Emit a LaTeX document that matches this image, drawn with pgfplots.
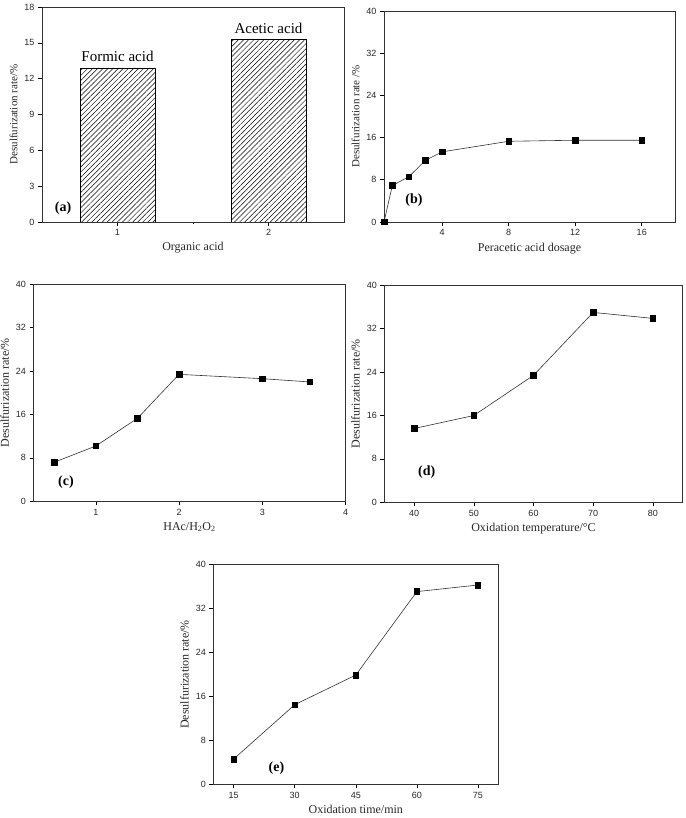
\documentclass[border=0pt]{standalone}
\usepackage{fontspec}
\setmainfont{Liberation Serif}
\setsansfont{Liberation Sans}
\usepackage{pgfplots}
\pgfplotsset{compat=1.18}
\usetikzlibrary{patterns.meta}
\pgfplotsset{
  myax/.style={
    scale only axis, anchor=south west,
    axis line style={line width=0.8pt, black!80},
    tick style={line width=0.6pt, black},
    tick align=outside, xtick pos=bottom, ytick pos=left,
    major tick length=4pt, minor tick length=2.5pt,
    tick label style={font=\sffamily\fontsize{9}{10}\selectfont, black!85},
    /pgf/number format/assume math mode=true,
    label style={font=\fontsize{12}{13}\selectfont, black!85},
    ymin=0, ymax=40, ytick={0,8,...,40},
    mk/.style={black!80, line width=0.6pt, mark=square*, mark size=2.8pt, mark options={black}},
  },
}
\begin{document}
\begin{tikzpicture}
\path[use as bounding box] (0pt,0pt) rectangle (685pt,818pt);
% (a)
\begin{axis}[myax, at={(42pt,596pt)}, width=302pt, height=215pt,
  xmin=0.5, xmax=2.5, xtick={1,2}, minor xtick={1.5},
  ymin=0, ymax=18, ytick={0,3,...,18},
  xlabel={Organic acid}, ylabel={Desulfurization rate/\%},
  ylabel style={font=\fontsize{11}{12}\selectfont},
  ybar, bar width=75pt]
\addplot[draw=black, line width=0.6pt, pattern={Lines[angle=45, distance=3.6pt, line width=0.5pt]}] coordinates {(1,12.9) (2,15.3)};
\node[font=\fontsize{15}{16}\selectfont, anchor=south] at (axis cs:1,13.1) {Formic acid};
\node[font=\fontsize{15}{16}\selectfont, anchor=south] at (axis cs:2,15.5) {Acetic acid};
\node[font=\bfseries\fontsize{14}{15}\selectfont] at (axis cs:0.64,1.15) {(a)};
\end{axis}
% (b)
\begin{axis}[myax, at={(384pt,596pt)}, width=291pt, height=211pt,
  xmin=0.5, xmax=18, xtick={4,8,12,16},
  xlabel={Peracetic acid dosage}, ylabel={Desulfurization rate /\%},
  ylabel style={font=\fontsize{11}{12}\selectfont}]
\addplot[mk] coordinates {(0.5,0) (1,6.9) (2,8.6) (3,11.7) (4,13.3) (8,15.3) (12,15.5) (16,15.5)};
\node[font=\bfseries\fontsize{14}{15}\selectfont] at (axis cs:2.3,4.2) {(b)};
\end{axis}
% (c)
\begin{axis}[myax, at={(33.5pt,316.7pt)}, width=312pt, height=217pt,
  xmin=0.25, xmax=4, xtick={1,2,3,4},
  xlabel={HAc/H\textsubscript{2}O\textsubscript{2}}, ylabel={Desulfurization rate/\%}]
\addplot[mk] coordinates {(0.5,7.2) (1,10.2) (1.5,15.3) (2,23.4) (3,22.6) (3.57,22.0)};
\node[font=\bfseries\fontsize{14}{15}\selectfont] at (axis cs:0.64,3.5) {(c)};
\end{axis}
% (d)
\begin{axis}[myax, at={(384.3pt,315.7pt)}, width=298.4pt, height=217pt,
  xmin=35, xmax=85, xtick={40,50,...,80},
  xlabel={Oxidation temperature/°C}, ylabel={Desulfurization rate/\%}]
\addplot[mk] coordinates {(40,13.6) (50,16.0) (60,23.4) (70,35.0) (80,33.9)};
\node[font=\bfseries\fontsize{14}{15}\selectfont] at (axis cs:42.1,5.5) {(d)};
\end{axis}
% (e)
\begin{axis}[myax, at={(213.3pt,33.7pt)}, width=285pt, height=219.6pt,
  xmin=10, xmax=80, xtick={15,30,...,75},
  xlabel={Oxidation time/min}, ylabel={Desulfurization rate/\%}]
\addplot[mk] coordinates {(15,4.6) (30,14.5) (45,19.9) (60,35.1) (75,36.3)};
\node[font=\bfseries\fontsize{14}{15}\selectfont] at (axis cs:25.5,3.0) {(e)};
\end{axis}
\end{tikzpicture}
\end{document}
